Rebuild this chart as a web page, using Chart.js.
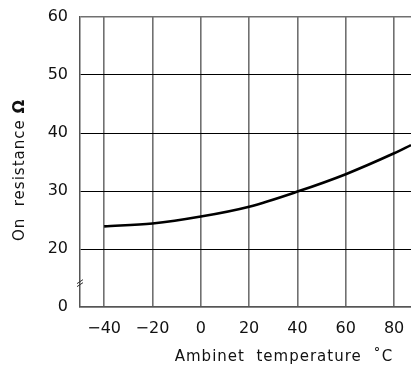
<!DOCTYPE html>
<html>
<head>
<meta charset="utf-8">
<script src="https://cdn.jsdelivr.net/npm/chart.js@4/dist/chart.umd.min.js"></script>
<style>
  html, body { margin: 0; padding: 0; background: #fff; }
  #wrap { width: 411px; height: 369px; }
</style>
</head>
<body>
<div id="wrap"><canvas id="res"></canvas></div>
<script>
// values
const temps = [-40, -20, 0, 20, 40, 60, 80, 87];
const resistance = [23.9, 24.4, 25.6, 27.3, 29.9, 32.9, 36.5, 37.9];
const xTicks = [-40, -20, 0, 20, 40, 60, 80];
const yTicks = [10, 20, 30, 40, 50, 60];   // 10 is shown as "0" (broken axis)
const xTitle = 'Ambinet  temperature  \u02DAC';
const yTitle = 'On  resistance ';

const FONT = '"DejaVu Sans", sans-serif';

// axis titles + the axis break mark
const extras = {
  id: 'extras',
  afterDraw(chart) {
    const ctx = chart.ctx;
    const a = chart.chartArea;
    const y = chart.scales.y;
    ctx.save();
    ctx.fillStyle = '#111';
    ctx.letterSpacing = '1px';
    ctx.font = '15px ' + FONT;
    ctx.textAlign = 'center';
    ctx.textBaseline = 'middle';
    ctx.fillText(xTitle, 284, 357);

    // y title, rotated, with bold omega
    ctx.translate(20, 170);
    ctx.rotate(-Math.PI / 2);
    ctx.textAlign = 'left';
    ctx.font = '15px ' + FONT;
    const w1 = ctx.measureText(yTitle).width;
    ctx.font = 'bold 16px ' + FONT;
    const w2 = ctx.measureText('\u03A9').width;
    let x0 = -(w1 + w2) / 2;
    ctx.font = '15px ' + FONT;
    ctx.fillText(yTitle, x0, 0);
    ctx.font = 'bold 16px ' + FONT;
    ctx.fillText('\u03A9', x0 + w1, 0);
    ctx.restore();

    // break mark on the y axis
    const by = y.getPixelForValue(14.2);
    ctx.save();
    ctx.strokeStyle = '#333';
    ctx.lineWidth = 1;
    ctx.beginPath();
    ctx.moveTo(a.left - 3, by + 1); ctx.lineTo(a.left + 3, by - 3);
    ctx.moveTo(a.left - 3, by + 4); ctx.lineTo(a.left + 3, by);
    ctx.stroke();
    ctx.restore();
  }
};

new Chart(document.getElementById('res'), {
  type: 'line',
  data: {
    datasets: [{
      data: temps.map((t, i) => ({ x: t, y: resistance[i] })),
      borderColor: '#000',
      borderWidth: 2.6,
      pointRadius: 0,
      cubicInterpolationMode: 'monotone',
      fill: false
    }]
  },
  options: {
    responsive: true,
    maintainAspectRatio: false,
    animation: false,
    layout: { padding: { top: 17, right: 0, left: 0, bottom: 0 } },
    plugins: { legend: { display: false }, tooltip: { enabled: false } },
    scales: {
      x: {
        type: 'linear',
        min: -50,
        max: 87,
        afterBuildTicks: s => { s.ticks = xTicks.map(v => ({ value: v })); },
        afterFit: s => { s.height = 62; s.paddingLeft = 0; s.paddingRight = 0; },
        grid: { color: '#707070', lineWidth: 1.6, drawTicks: false },
        border: { color: '#555', width: 1.5 },
        ticks: {
          color: '#111',
          font: { family: FONT, size: 16 },
          padding: 12,
          maxRotation: 0,
          callback: v => v < 0 ? '\u2212' + Math.abs(v) : String(v)
        }
      },
      y: {
        type: 'linear',
        min: 10,
        max: 60,
        afterBuildTicks: s => { s.ticks = yTicks.map(v => ({ value: v })); },
        afterFit: s => { s.width = 80; s.paddingTop = 0; s.paddingBottom = 0; },
        grid: {
          color: c => (c.tick && (c.tick.value === 60 || c.tick.value === 10)) ? '#707070' : '#000',
          lineWidth: c => (c.tick && (c.tick.value === 60 || c.tick.value === 10)) ? 1.6 : 1,
          drawTicks: false
        },
        border: { color: '#555', width: 1.5 },
        ticks: {
          color: '#111',
          font: { family: FONT, size: 16 },
          padding: 12,
          callback: v => v === 10 ? '0' : String(v)
        }
      }
    }
  },
  plugins: [extras]
});
</script>
</body>
</html>
